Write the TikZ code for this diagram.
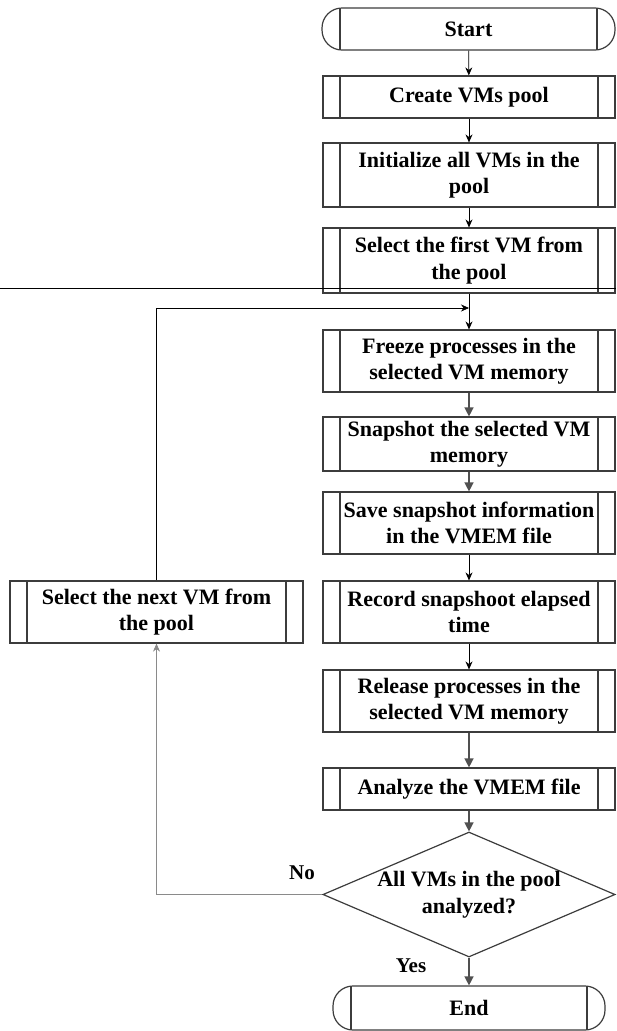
\documentclass[tikz,border=0pt]{standalone}
\usepackage{fontspec}
\setmainfont{Liberation Serif}
\usetikzlibrary{arrows.meta,shapes.geometric}
\definecolor{linec}{HTML}{3C3C3C}
\definecolor{heavyc}{HTML}{505050}
\definecolor{loopc}{HTML}{8A8A8A}
\tikzset{
  boxtext/.style={font=\fontsize{22}{26.5}\selectfont\bfseries, align=center, text=black},
  proc/.style={boxtext, draw=linec, line width=1.2pt, fill=white, minimum width=292pt, inner sep=0pt,
    path picture={\draw[line width=1.2pt, draw=linec]
      ([xshift=17pt]path picture bounding box.north west) -- ([xshift=17pt]path picture bounding box.south west)
      ([xshift=-17pt]path picture bounding box.north east) -- ([xshift=-17pt]path picture bounding box.south east);}},
  term/.style={boxtext, draw=linec, line width=1.2pt, fill=white, inner sep=0pt, rounded corners=20pt,
    path picture={\draw[line width=1.2pt, draw=linec]
      ([xshift=18pt]path picture bounding box.north west) -- ([xshift=18pt]path picture bounding box.south west)
      ([xshift=-18pt]path picture bounding box.north east) -- ([xshift=-18pt]path picture bounding box.south east);}},
  decis/.style={boxtext, draw=linec, line width=1.2pt, fill=white, shape=diamond, aspect=2.34, inner sep=0pt,
    minimum width=292pt, minimum height=125pt},
  thinarrow/.style={draw=black, line width=0.7pt, -{Stealth[length=8pt,width=7pt]}},
  heavyarrow/.style={draw=heavyc, line width=1.4pt, -{Triangle[length=9pt,width=9pt]}},
  looparrow/.style={draw=loopc, line width=0.8pt, -{Stealth[length=8pt,width=7pt]}, color=loopc},
  lbl/.style={font=\fontsize{21}{24}\selectfont\bfseries, text=black}
}
\begin{document}
\begin{tikzpicture}[x=1pt,y=-1pt]
\useasboundingbox (0,0) rectangle (616,1031);
\node[term, minimum width=293pt, minimum height=42pt] (start) at (468.5,29) {Start};
\node[proc, minimum height=42pt] (create) at (469,97) {Create VMs pool};
\node[proc, minimum height=64pt] (init) at (469,175) {Initialize all VMs in the\\pool};
\node[proc, minimum height=65pt] (first) at (469,260.5) {Select the first VM from\\the pool};
\node[proc, minimum height=62pt] (freeze) at (469,361) {Freeze processes in the\\selected VM memory};
\node[proc, minimum height=54pt] (snap) at (469,444) {Snapshot the selected VM\\memory};
\node[proc, minimum height=62pt] (save) at (469,523) {Save snapshot information\\in the VMEM file};
\node[proc, minimum height=62pt] (record) at (469,612) {Record snapshoot elapsed\\time};
\node[proc, minimum height=62pt] (release) at (469,701) {Release processes in the\\selected VM memory};
\node[proc, minimum height=42pt] (analyze) at (469,789) {Analyze the VMEM file};
\node[decis] (dec) at (469,894.5) {All VMs in the pool\\analyzed?};
\node[term, minimum width=272pt, minimum height=44pt] (end) at (469,1008) {End};
\node[proc, minimum height=62pt, minimum width=293pt] (next) at (156.5,612) {Select the next VM from\\the pool};

\node[lbl] (no) at (302,873) {No};
\node[lbl] (yes) at (411,966) {Yes};

\coordinate (hl) at (0,288);
\coordinate (hr) at (616,288);
\draw[line width=0.9pt, black] (hl) -- (hr);

\coordinate (join) at (469,308);

\draw[thinarrow] (start) -- (create);
\draw[thinarrow] (create) -- (init);
\draw[thinarrow] (init) -- (first);
\draw[thinarrow] (first) -- (freeze);
\draw[heavyarrow] (freeze) -- (snap);
\draw[heavyarrow] (snap) -- (save);
\draw[thinarrow] (save) -- (record);
\draw[thinarrow] (record) -- (release);
\draw[heavyarrow] (release) -- (analyze);
\draw[heavyarrow] (analyze) -- (dec);
\draw[heavyarrow] (dec) -- (end);
\draw[thinarrow] (next.north) |- (join);
\draw[looparrow] (dec.west) -| (next.south);
\end{tikzpicture}
\end{document}
